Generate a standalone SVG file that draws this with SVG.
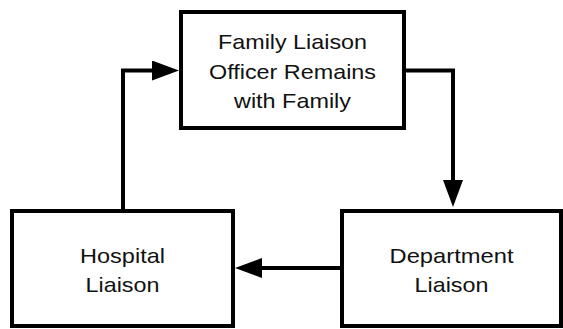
<svg xmlns="http://www.w3.org/2000/svg" width="563" height="329" viewBox="0 0 563 329">
  <style>
    .box { fill: #ffffff; stroke: #000000; stroke-width: 4; }
    .link { fill: none; stroke: #000000; stroke-width: 4; stroke-linejoin: miter; }
    .label { font-family: "Liberation Sans", Arial, sans-serif; font-size: 21px; fill: #111111; text-anchor: middle; }
  </style>
  <defs>
    <marker id="arrow" markerUnits="userSpaceOnUse" markerWidth="28" markerHeight="21" refX="0" refY="10" orient="auto">
      <path d="M0,0 L27,10 L0,20 z" fill="#000000"/>
    </marker>
  </defs>
  <rect width="563" height="329" fill="#ffffff"/>

  <g id="connectors">
    <path class="link" d="M404,70.5 H453 V180" marker-end="url(#arrow)"/>
    <path class="link" d="M342,268 H262" marker-end="url(#arrow)"/>
    <path class="link" d="M123,211 V70.5 H152" marker-end="url(#arrow)"/>
  </g>

  <g id="family-liaison-officer">
    <rect class="box" x="181" y="12" width="223" height="116"/>
    <text class="label" x="292.5" y="49" textLength="149" lengthAdjust="spacingAndGlyphs">Family Liaison</text>
    <text class="label" x="292.5" y="79" textLength="167" lengthAdjust="spacingAndGlyphs">Officer Remains</text>
    <text class="label" x="292.5" y="108" textLength="117" lengthAdjust="spacingAndGlyphs">with Family</text>
  </g>

  <g id="hospital-liaison">
    <rect class="box" x="12" y="211" width="221" height="115"/>
    <text class="label" x="122.5" y="263" textLength="85" lengthAdjust="spacingAndGlyphs">Hospital</text>
    <text class="label" x="122.5" y="292" textLength="74" lengthAdjust="spacingAndGlyphs">Liaison</text>
  </g>

  <g id="department-liaison">
    <rect class="box" x="342" y="211" width="219" height="115"/>
    <text class="label" x="451.5" y="263" textLength="124" lengthAdjust="spacingAndGlyphs">Department</text>
    <text class="label" x="451.5" y="292" textLength="74" lengthAdjust="spacingAndGlyphs">Liaison</text>
  </g>
</svg>
